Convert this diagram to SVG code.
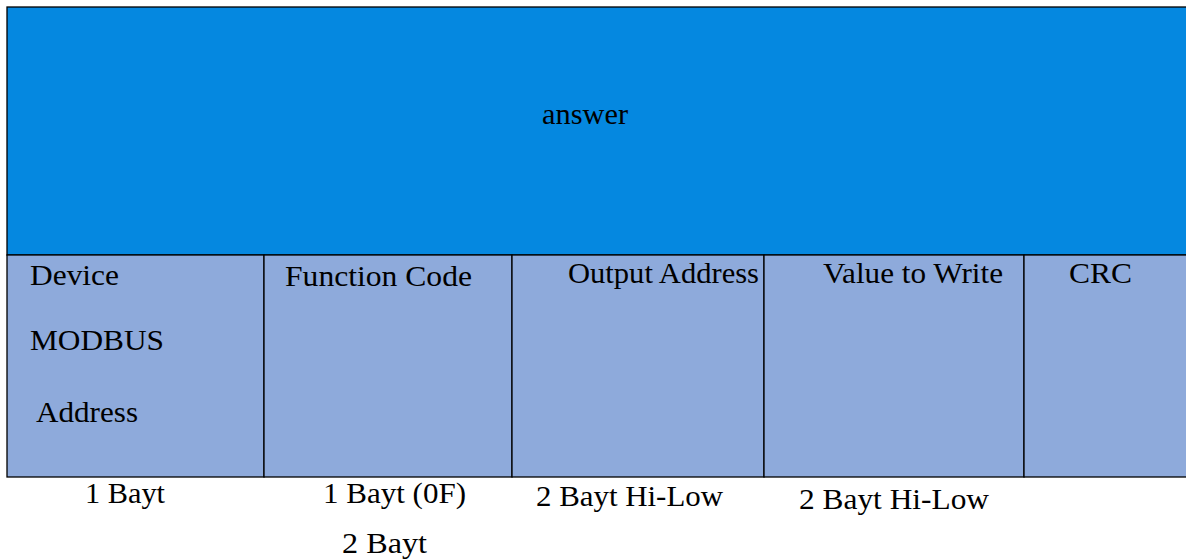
<svg xmlns="http://www.w3.org/2000/svg" width="1186" height="560" viewBox="0 0 1186 560">
<style>
.t{font-family:"Liberation Serif","Times New Roman",serif;font-size:29px;fill:#000}
.hdr{fill:#0588E0;stroke:#000;stroke-width:1.3}
.cell{fill:#8EAADB;stroke:#000;stroke-width:1.3}
</style>
<rect width="1186" height="560" fill="#fff"/>
<g id="answer">
<rect class="hdr" x="7" y="7" width="1190" height="248"/>
<text class="t" x="542" y="124" textLength="86" lengthAdjust="spacingAndGlyphs">answer</text>
</g>
<g id="device">
<rect class="cell" x="7" y="255" width="257" height="222"/>
<text class="t" x="30" y="285" textLength="89" lengthAdjust="spacingAndGlyphs">Device</text>
<text class="t" x="30" y="350" textLength="134" lengthAdjust="spacingAndGlyphs">MODBUS</text>
<text class="t" x="36" y="422" textLength="102" lengthAdjust="spacingAndGlyphs">Address</text>
</g>
<g id="function">
<rect class="cell" x="264" y="255" width="248" height="222"/>
<text class="t" x="285" y="286" textLength="187" lengthAdjust="spacingAndGlyphs">Function Code</text>
</g>
<g id="output">
<rect class="cell" x="512" y="255" width="252" height="222"/>
<text class="t" x="568" y="283" textLength="191" lengthAdjust="spacingAndGlyphs">Output Address</text>
</g>
<g id="value">
<rect class="cell" x="764" y="255" width="260" height="222"/>
<text class="t" x="823" y="283" textLength="180" lengthAdjust="spacingAndGlyphs">Value to Write</text>
</g>
<g id="crc">
<rect class="cell" x="1024" y="255" width="173" height="222"/>
<text class="t" x="1069" y="283" textLength="63" lengthAdjust="spacingAndGlyphs">CRC</text>
</g>
<g id="sizes">
<text class="t" x="85" y="503" textLength="80" lengthAdjust="spacingAndGlyphs">1 Bayt</text>
<text class="t" x="323" y="503" textLength="143" lengthAdjust="spacingAndGlyphs">1 Bayt (0F)</text>
<text class="t" x="342" y="553" textLength="85" lengthAdjust="spacingAndGlyphs">2 Bayt</text>
<text class="t" x="536" y="506" textLength="187" lengthAdjust="spacingAndGlyphs">2 Bayt Hi-Low</text>
<text class="t" x="799" y="509" textLength="190" lengthAdjust="spacingAndGlyphs">2 Bayt Hi-Low</text>
</g>
<g id="connectors"></g>
</svg>
